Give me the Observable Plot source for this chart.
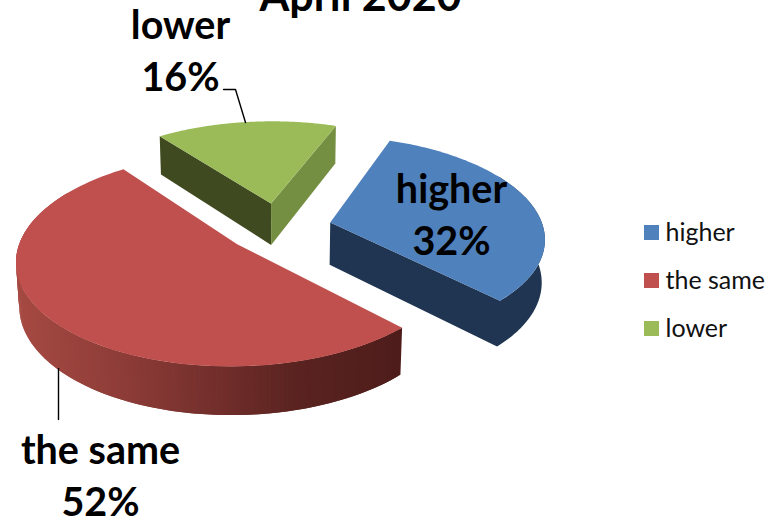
<!DOCTYPE html>
<html><head><meta charset="utf-8">
<style>html,body{margin:0;padding:0;background:#fff}svg{display:block}</style>
<script src="https://cdn.jsdelivr.net/npm/d3@7"></script>
<script src="https://cdn.jsdelivr.net/npm/@observablehq/plot@0.6"></script>
</head><body><div id="chart"></div>
<script>
const title = "April 2020";
const categories = ["higher", "the same", "lower"];
const values = [32, 52, 16];
const colors = ["#4f81bd", "#c0504d", "#9bbb59"];

// 3D pie projection
const W = 782, H = 517;
const C = {x: 278, y: 227, a: 213, b: 100, k: 0.14, e: 0.25, depth: 43, m: 0.012};
const firstAngle = 20.5;
const rad = d => d * Math.PI / 180;
function project(X, Y, Z) {
  const w = 1 + C.k * Y + C.m * Z;
  return {x: C.x + C.a * X / w, y: C.y + (-C.b * Y + C.depth * Z) / w};
}
let acc = firstAngle;
const slices = categories.map((name, i) => {
  const start = acc, end = acc + values[i] * 3.6; acc = end;
  const mid = rad((start + end) / 2);
  return {name, i, start, end, ox: C.e * Math.sin(mid), oy: C.e * Math.cos(mid)};
});
const rim = (s, t, Z) => project(s.ox + Math.sin(rad(t)), s.oy + Math.cos(rad(t)), Z);
const apex = (s, Z) => project(s.ox, s.oy, Z);
const angles = (a, b) => d3.range(0, 121).map(j => a + (b - a) * j / 120);

const polys = [];
const poly = (id, color, pts) => pts.forEach(p => polys.push({id, color, x: p.x, y: p.y}));
const wallColors = {blue: "#1f3552", greenL: "#404a20", greenR: "#748f41"};
const [sBlue, sRed, sGreen] = slices;

// green walls and top
poly("gl", wallColors.greenL, [apex(sGreen, 0), rim(sGreen, sGreen.start, 0), rim(sGreen, sGreen.start, 1), apex(sGreen, 1)]);
poly("gr", wallColors.greenR, [apex(sGreen, 0), rim(sGreen, sGreen.end, 0), rim(sGreen, sGreen.end, 1), apex(sGreen, 1)]);
poly("gt", colors[2], [apex(sGreen, 0), ...angles(sGreen.start, sGreen.end).map(t => rim(sGreen, t, 0))]);
// blue wall (radial side and outer rim as one shape) and top
poly("bw", wallColors.blue, [apex(sBlue, 0), ...angles(sBlue.end, sBlue.start + 40).map(t => rim(sBlue, t, 0)), ...angles(sBlue.start + 40, sBlue.end).map(t => rim(sBlue, t, 1)), apex(sBlue, 1)]);
poly("bt", colors[0], [apex(sBlue, 0), ...angles(sBlue.start, sBlue.end).map(t => rim(sBlue, t, 0))]);
// red shaded outer wall, as slim overlapping bands
const shade = d3.scaleLinear().domain([16, 130, 300, 400]).range(["#a64a43", "#8c3b37", "#5a2320", "#4e1d1b"]).clamp(true);
const bands = [];
d3.range(sRed.start, 300, 1).forEach((t, j) => {
  const t2 = t + 2;
  const q = [rim(sRed, t, 0), rim(sRed, t2, 0), rim(sRed, t2, 1), rim(sRed, t, 1)];
  const col = shade(q[0].x);
  q.forEach(p => bands.push({id: "r" + j, color: col, x: p.x, y: p.y}));
});
const redTop = [];
[apex(sRed, 0), ...angles(sRed.start, sRed.end).map(t => rim(sRed, t, 0))].forEach(p => redTop.push({id: "rt", color: colors[1], x: p.x, y: p.y}));

// layout of text
const labelFont = "Lato";
const labels = [
  {text: "lower", x: 180, y: 26}, {text: "16%", x: 180, y: 78},
  {text: "higher", x: 451, y: 190}, {text: "32%", x: 451, y: 242},
  {text: "the same", x: 100, y: 451}, {text: "52%", x: 100, y: 503}
];
const leaders = [
  {id: "g", x: 223, y: 89}, {id: "g", x: 235, y: 89}, {id: "g", x: 245, y: 122},
  {id: "r", x: 58, y: 368}, {id: "r", x: 58, y: 419}
];
const legend = categories.map((name, i) => ({name, color: colors[i], y: 232.5 + i * 48}));

const chart = Plot.plot({
  width: W, height: H, margin: 0,
  x: {domain: [0, W], range: [0, W], axis: null},
  y: {domain: [0, H], range: [0, H], axis: null},
  color: {type: "identity"},
  marks: [
    Plot.line(polys.filter(d => d.id[0] === "g"), {x: "x", y: "y", z: "id", fill: "color", stroke: null, curve: "linear-closed"}),
    Plot.line(polys.filter(d => d.id[0] === "b"), {x: "x", y: "y", z: "id", fill: "color", stroke: null, curve: "linear-closed"}),
    Plot.line(bands, {x: "x", y: "y", z: "id", fill: "color", stroke: null, curve: "linear-closed"}),
    Plot.line(redTop, {x: "x", y: "y", z: "id", fill: "color", stroke: null, curve: "linear-closed"}),
    Plot.line(leaders, {x: "x", y: "y", z: "id", stroke: "#000", strokeWidth: 1.4}),
    Plot.text([title], {x: 360, y: -3, text: d => d, fontFamily: labelFont, fontWeight: 700, fontSize: 43, fill: "#000"}),
    Plot.text(labels, {x: "x", y: "y", text: "text", fontFamily: labelFont, fontWeight: 700, fontSize: 39.5, fill: "#000"}),
    Plot.rect(legend, {x1: 644, x2: 659, y1: d => d.y - 7.5, y2: d => d.y + 7.5, fill: "color"}),
    Plot.text(legend, {x: 665, y: "y", text: "name", textAnchor: "start", fontFamily: labelFont, fontSize: 25, fill: "#111"})
  ]
});
document.getElementById("chart").append(chart);
</script></body></html>
